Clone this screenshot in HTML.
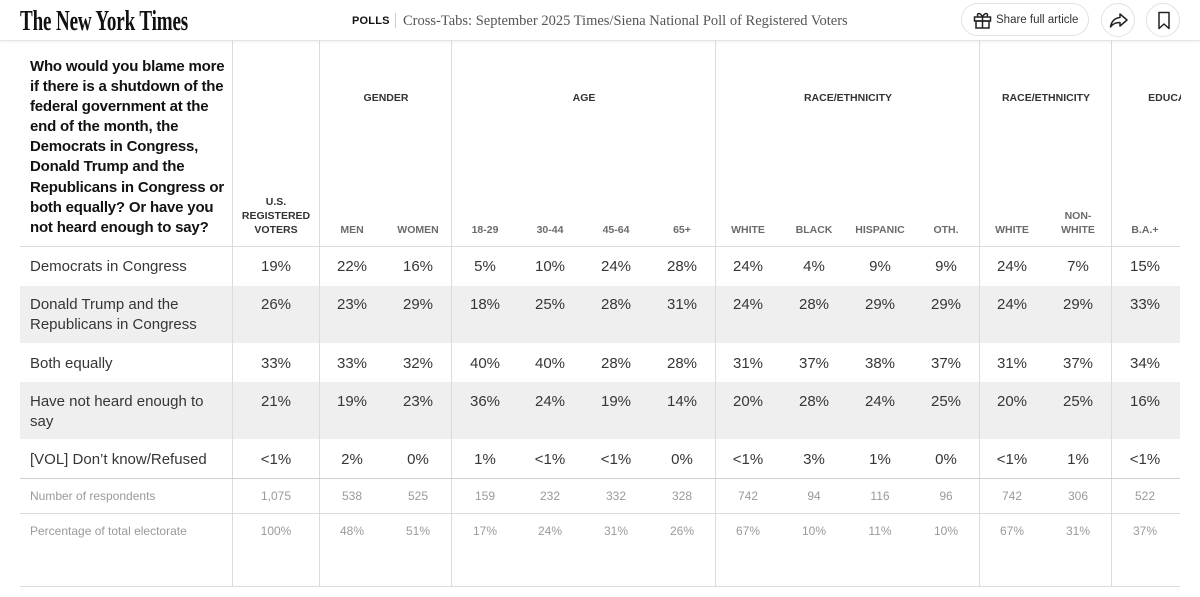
<!DOCTYPE html>
<html>
<head>
<meta charset="utf-8">
<style>
*{margin:0;padding:0;box-sizing:border-box;}
html,body{width:1200px;height:597px;overflow:hidden;background:#fff;}
body{position:relative;font-family:"Liberation Sans",Arial,sans-serif;color:#333;}
.abs{position:absolute;}
.topbar{position:absolute;left:0;top:0;width:1200px;height:41px;border-bottom:1px solid #e4e4e4;box-shadow:0 1px 2px rgba(0,0,0,0.06);background:#fff;z-index:3;}
.logo{position:absolute;left:20px;top:6px;font-family:"Liberation Serif",serif;font-weight:bold;font-size:28px;line-height:32px;color:#111;transform:scaleX(0.68);transform-origin:left top;white-space:nowrap;letter-spacing:-0.2px;}
.polls{position:absolute;left:352px;top:14px;font-weight:bold;font-size:11px;line-height:14px;color:#121212;letter-spacing:0.2px;}
.sep{position:absolute;left:395px;top:13px;width:1px;height:15px;background:#ccc;}
.title{position:absolute;left:403px;top:12px;font-family:"Liberation Serif",serif;font-size:14.5px;line-height:18px;color:#555;white-space:nowrap;}
.pill{position:absolute;left:961px;top:3px;width:128px;height:33px;border:1px solid #e2e2e2;border-radius:17px;}
.pill span{position:absolute;left:34px;top:9px;font-size:11.5px;line-height:15px;color:#333;white-space:nowrap;}
.circ{position:absolute;top:3px;width:34px;height:34px;border:1px solid #e2e2e2;border-radius:50%;}
.wrap{position:absolute;left:0;top:0;width:1181px;height:597px;overflow:hidden;}
.vl{position:absolute;top:41px;width:1px;height:546px;background:#dcdcdc;z-index:2;}
.hl{position:absolute;left:20px;width:1160px;height:1px;background:#d6d6d6;z-index:2;}
.shade{position:absolute;left:20px;width:1160px;background:#efefef;}
.q{position:absolute;left:30px;top:57px;font-weight:bold;font-size:15px;line-height:20.1px;color:#121212;white-space:nowrap;letter-spacing:-0.2px;}
.g{position:absolute;top:92px;width:160px;margin-left:-80px;text-align:center;font-weight:bold;font-size:10.5px;line-height:13px;color:#333;white-space:nowrap;}
.s{position:absolute;width:80px;margin-left:-40px;text-align:center;font-weight:bold;font-size:10.5px;line-height:14px;color:#6b6b6b;white-space:nowrap;}
.row{position:absolute;left:0;width:1200px;font-size:15px;line-height:20px;color:#363636;}
.row .l{position:absolute;left:30px;top:0;white-space:nowrap;}
.row .v{position:absolute;top:0;width:80px;margin-left:-40px;text-align:center;white-space:nowrap;}
.small{font-size:12px;line-height:16px;color:#9a9a9a;}
</style>
</head>
<body>
<div class="wrap">
  <div class="shade" style="top:286px;height:57px;"></div>
  <div class="shade" style="top:382px;height:57px;"></div>

  <div class="vl" style="left:232px;"></div>
  <div class="vl" style="left:319px;"></div>
  <div class="vl" style="left:451px;"></div>
  <div class="vl" style="left:715px;"></div>
  <div class="vl" style="left:979px;"></div>
  <div class="vl" style="left:1111px;"></div>

  <div class="hl" style="top:246px;background:#dcdcdc;"></div>
  <div class="hl" style="top:478px;background:#cfcfcf;"></div>
  <div class="hl" style="top:513px;background:#dcdcdc;"></div>
  <div class="hl" style="top:586px;background:#dcdcdc;"></div>

  <div class="q">Who would you blame more<br>if there is a shutdown of the<br>federal government at the<br>end of the month, the<br>Democrats in Congress,<br>Donald Trump and the<br>Republicans in Congress or<br>both equally? Or have you<br>not heard enough to say?</div>

  <div class="g" style="left:386px;">GENDER</div>
  <div class="g" style="left:584px;">AGE</div>
  <div class="g" style="left:848px;">RACE/ETHNICITY</div>
  <div class="g" style="left:1046px;">RACE/ETHNICITY</div>
  <div class="g" style="left:1179px;">EDUCATION</div>

  <div class="s" style="left:276px;top:195px;color:#333;">U.S.<br>REGISTERED<br>VOTERS</div>
  <div class="s" style="left:352px;top:223px;">MEN</div>
  <div class="s" style="left:418px;top:223px;">WOMEN</div>
  <div class="s" style="left:485px;top:223px;">18-29</div>
  <div class="s" style="left:550px;top:223px;">30-44</div>
  <div class="s" style="left:616px;top:223px;">45-64</div>
  <div class="s" style="left:682px;top:223px;">65+</div>
  <div class="s" style="left:748px;top:223px;">WHITE</div>
  <div class="s" style="left:814px;top:223px;">BLACK</div>
  <div class="s" style="left:880px;top:223px;">HISPANIC</div>
  <div class="s" style="left:946px;top:223px;">OTH.</div>
  <div class="s" style="left:1012px;top:223px;">WHITE</div>
  <div class="s" style="left:1078px;top:209px;">NON-<br>WHITE</div>
  <div class="s" style="left:1145px;top:223px;">B.A.+</div>

  <div class="row" style="top:257px;">
    <span class="l">Democrats in Congress</span>
    <span class="v" style="left:276px;">19%</span>
    <span class="v" style="left:352px;">22%</span>
    <span class="v" style="left:418px;">16%</span>
    <span class="v" style="left:485px;">5%</span>
    <span class="v" style="left:550px;">10%</span>
    <span class="v" style="left:616px;">24%</span>
    <span class="v" style="left:682px;">28%</span>
    <span class="v" style="left:748px;">24%</span>
    <span class="v" style="left:814px;">4%</span>
    <span class="v" style="left:880px;">9%</span>
    <span class="v" style="left:946px;">9%</span>
    <span class="v" style="left:1012px;">24%</span>
    <span class="v" style="left:1078px;">7%</span>
    <span class="v" style="left:1145px;">15%</span>
  </div>

  <div class="row" style="top:295px;">
    <span class="l">Donald Trump and the<br>Republicans in Congress</span>
    <span class="v" style="left:276px;">26%</span>
    <span class="v" style="left:352px;">23%</span>
    <span class="v" style="left:418px;">29%</span>
    <span class="v" style="left:485px;">18%</span>
    <span class="v" style="left:550px;">25%</span>
    <span class="v" style="left:616px;">28%</span>
    <span class="v" style="left:682px;">31%</span>
    <span class="v" style="left:748px;">24%</span>
    <span class="v" style="left:814px;">28%</span>
    <span class="v" style="left:880px;">29%</span>
    <span class="v" style="left:946px;">29%</span>
    <span class="v" style="left:1012px;">24%</span>
    <span class="v" style="left:1078px;">29%</span>
    <span class="v" style="left:1145px;">33%</span>
  </div>

  <div class="row" style="top:354px;">
    <span class="l">Both equally</span>
    <span class="v" style="left:276px;">33%</span>
    <span class="v" style="left:352px;">33%</span>
    <span class="v" style="left:418px;">32%</span>
    <span class="v" style="left:485px;">40%</span>
    <span class="v" style="left:550px;">40%</span>
    <span class="v" style="left:616px;">28%</span>
    <span class="v" style="left:682px;">28%</span>
    <span class="v" style="left:748px;">31%</span>
    <span class="v" style="left:814px;">37%</span>
    <span class="v" style="left:880px;">38%</span>
    <span class="v" style="left:946px;">37%</span>
    <span class="v" style="left:1012px;">31%</span>
    <span class="v" style="left:1078px;">37%</span>
    <span class="v" style="left:1145px;">34%</span>
  </div>

  <div class="row" style="top:392px;">
    <span class="l">Have not heard enough to<br>say</span>
    <span class="v" style="left:276px;">21%</span>
    <span class="v" style="left:352px;">19%</span>
    <span class="v" style="left:418px;">23%</span>
    <span class="v" style="left:485px;">36%</span>
    <span class="v" style="left:550px;">24%</span>
    <span class="v" style="left:616px;">19%</span>
    <span class="v" style="left:682px;">14%</span>
    <span class="v" style="left:748px;">20%</span>
    <span class="v" style="left:814px;">28%</span>
    <span class="v" style="left:880px;">24%</span>
    <span class="v" style="left:946px;">25%</span>
    <span class="v" style="left:1012px;">20%</span>
    <span class="v" style="left:1078px;">25%</span>
    <span class="v" style="left:1145px;">16%</span>
  </div>

  <div class="row" style="top:450px;">
    <span class="l">[VOL] Don’t know/Refused</span>
    <span class="v" style="left:276px;">&lt;1%</span>
    <span class="v" style="left:352px;">2%</span>
    <span class="v" style="left:418px;">0%</span>
    <span class="v" style="left:485px;">1%</span>
    <span class="v" style="left:550px;">&lt;1%</span>
    <span class="v" style="left:616px;">&lt;1%</span>
    <span class="v" style="left:682px;">0%</span>
    <span class="v" style="left:748px;">&lt;1%</span>
    <span class="v" style="left:814px;">3%</span>
    <span class="v" style="left:880px;">1%</span>
    <span class="v" style="left:946px;">0%</span>
    <span class="v" style="left:1012px;">&lt;1%</span>
    <span class="v" style="left:1078px;">1%</span>
    <span class="v" style="left:1145px;">&lt;1%</span>
  </div>

  <div class="row small" style="top:488px;">
    <span class="l">Number of respondents</span>
    <span class="v" style="left:276px;">1,075</span>
    <span class="v" style="left:352px;">538</span>
    <span class="v" style="left:418px;">525</span>
    <span class="v" style="left:485px;">159</span>
    <span class="v" style="left:550px;">232</span>
    <span class="v" style="left:616px;">332</span>
    <span class="v" style="left:682px;">328</span>
    <span class="v" style="left:748px;">742</span>
    <span class="v" style="left:814px;">94</span>
    <span class="v" style="left:880px;">116</span>
    <span class="v" style="left:946px;">96</span>
    <span class="v" style="left:1012px;">742</span>
    <span class="v" style="left:1078px;">306</span>
    <span class="v" style="left:1145px;">522</span>
  </div>

  <div class="row small" style="top:523px;">
    <span class="l">Percentage of total electorate</span>
    <span class="v" style="left:276px;">100%</span>
    <span class="v" style="left:352px;">48%</span>
    <span class="v" style="left:418px;">51%</span>
    <span class="v" style="left:485px;">17%</span>
    <span class="v" style="left:550px;">24%</span>
    <span class="v" style="left:616px;">31%</span>
    <span class="v" style="left:682px;">26%</span>
    <span class="v" style="left:748px;">67%</span>
    <span class="v" style="left:814px;">10%</span>
    <span class="v" style="left:880px;">11%</span>
    <span class="v" style="left:946px;">10%</span>
    <span class="v" style="left:1012px;">67%</span>
    <span class="v" style="left:1078px;">31%</span>
    <span class="v" style="left:1145px;">37%</span>
  </div>
</div>

<div class="topbar">
  <div class="logo">The New York Times</div>
  <div class="polls">POLLS</div>
  <div class="sep"></div>
  <div class="title">Cross-Tabs: September 2025 Times/Siena National Poll of Registered Voters</div>
  <div class="pill">
    <svg class="abs" style="left:11px;top:7px;" width="19" height="18" viewBox="0 0 19 18" fill="none" stroke="#222" stroke-width="1.5">
      <rect x="1.5" y="6" width="16" height="4" />
      <rect x="3" y="10" width="13" height="7" />
      <line x1="9.5" y1="6" x2="9.5" y2="17"/>
      <path d="M9.5 6 C7 1,3 2,5 5.5 M9.5 6 C12 1,16 2,14 5.5"/>
    </svg>
    <span>Share full article</span>
  </div>
  <div class="circ" style="left:1101px;">
    <svg class="abs" style="left:7px;top:8px;" width="20" height="17" viewBox="0 0 20 17" fill="none" stroke="#222" stroke-width="1.5" stroke-linejoin="round">
      <path d="M11 2 L18 8 L11 14 L11 10.5 C6 10.5,3.5 12,1.5 15 C2.5 9,6 6,11 5.5 Z"/>
    </svg>
  </div>
  <div class="circ" style="left:1146px;">
    <svg class="abs" style="left:10px;top:7px;" width="14" height="19" viewBox="0 0 14 19" fill="none" stroke="#222" stroke-width="1.5" stroke-linejoin="round">
      <path d="M2 1.5 H12 V17.5 L7 13 L2 17.5 Z"/>
    </svg>
  </div>
</div>
</body>
</html>
